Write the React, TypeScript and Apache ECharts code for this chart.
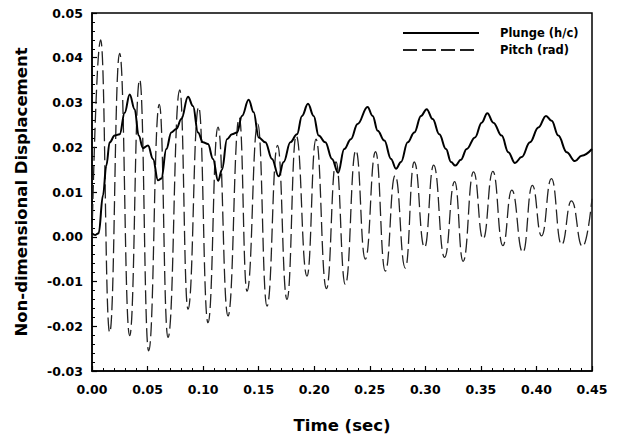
import React, { useEffect, useRef } from "react";
import * as echarts from "echarts";

const xTicks = [0, 0.45, 0.05];
const yTicks = [-0.03, 0.05, 0.01];

const plungeT = [0.000, 0.003, 0.006, 0.0099, 0.0129, 0.0159, 0.0204, 0.0249, 0.0294, 0.0339, 0.0384, 0.042, 0.0459, 0.0504, 0.0549, 0.0594, 0.0624, 0.0669, 0.0714, 0.0759, 0.0804, 0.0864, 0.0909, 0.0954, 0.0999, 0.1044, 0.1089, 0.1135, 0.117, 0.1215, 0.126, 0.1305, 0.135, 0.141, 0.1455, 0.15, 0.156, 0.162, 0.168, 0.1725, 0.1785, 0.1845, 0.189, 0.1944, 0.1995, 0.204, 0.21, 0.216, 0.2215, 0.227, 0.233, 0.239, 0.248, 0.2526, 0.2571, 0.2631, 0.2691, 0.2736, 0.2781, 0.2841, 0.2901, 0.2961, 0.3012, 0.3066, 0.3126, 0.3186, 0.3231, 0.327, 0.332, 0.3372, 0.3447, 0.3507, 0.3558, 0.3612, 0.3687, 0.3747, 0.3807, 0.3867, 0.3942, 0.4017, 0.4086, 0.4137, 0.4197, 0.4272, 0.4347, 0.4407, 0.45];
const plungeV = [0.0008, 0.0004, 0.0008, 0.0093, 0.0159, 0.0211, 0.0226, 0.0229, 0.0277, 0.0318, 0.0285, 0.0226, 0.0198, 0.0204, 0.0174, 0.0126, 0.013, 0.0196, 0.0233, 0.0241, 0.0263, 0.0313, 0.0292, 0.0233, 0.0211, 0.0207, 0.0174, 0.0125, 0.015, 0.0218, 0.0229, 0.0233, 0.027, 0.0306, 0.0278, 0.0222, 0.0211, 0.0174, 0.0135, 0.0167, 0.0211, 0.0229, 0.027, 0.0297, 0.027, 0.0226, 0.0211, 0.0174, 0.0143, 0.0196, 0.0218, 0.0252, 0.029, 0.027, 0.0237, 0.0215, 0.0174, 0.0152, 0.0167, 0.0211, 0.0233, 0.027, 0.0285, 0.0263, 0.0229, 0.0196, 0.0167, 0.0159, 0.0172, 0.0196, 0.0222, 0.0255, 0.0276, 0.0255, 0.0226, 0.0189, 0.0165, 0.0178, 0.0211, 0.0244, 0.027, 0.0259, 0.0226, 0.0189, 0.0169, 0.0181, 0.0196];

const pitchT = [0.000, 0.0078, 0.0159, 0.0249, 0.0339, 0.0429, 0.051, 0.0606, 0.0684, 0.079, 0.0864, 0.096, 0.1044, 0.1134, 0.1224, 0.1326, 0.1395, 0.1492, 0.1575, 0.167, 0.1755, 0.1838, 0.1935, 0.2016, 0.211, 0.2196, 0.228, 0.2375, 0.246, 0.2552, 0.264, 0.2728, 0.282, 0.29, 0.2993, 0.3075, 0.3173, 0.3264, 0.334, 0.3434, 0.352, 0.3608, 0.3698, 0.3778, 0.3878, 0.3963, 0.4046, 0.4135, 0.4226, 0.4315, 0.4415, 0.45];
const pitchV = [0.000, 0.044, -0.0214, 0.041, -0.0221, 0.0351, -0.0255, 0.0296, -0.0225, 0.0328, -0.0162, 0.029, -0.0192, 0.0245, -0.0177, 0.0266, -0.0122, 0.0252, -0.0155, 0.0204, -0.014, 0.0226, -0.0088, 0.0218, -0.0116, 0.0167, -0.0107, 0.0193, -0.005, 0.019, -0.0077, 0.0137, -0.007, 0.0167, -0.0024, 0.016, -0.0046, 0.0123, -0.0055, 0.0145, -0.0005, 0.0146, -0.002, 0.0104, -0.0035, 0.0115, 0.0002, 0.013, -0.0018, 0.008, -0.0022, 0.0085];

const seriesNames = ["Plunge (h/c)", "Pitch (rad)"];
const xName = "Time (sec)";
const yName = "Non-dimensional Displacement";

const FONT = "DejaVu Sans";

export default function App() {
  const ref = useRef<HTMLDivElement>(null);
  useEffect(() => {
    document.body.style.margin = "0";
    const chart = echarts.init(ref.current!, null, { renderer: "svg" });
    const axisCommon = {
      axisLine: { show: true, onZero: false, lineStyle: { color: "#000", width: 1.5 } },
      axisTick: { show: true, inside: true, length: 5, lineStyle: { color: "#000", width: 1.2 } },
      minorTick: { show: true, splitNumber: 5, length: 3, lineStyle: { color: "#000", width: 1 } },
      splitLine: { show: false },
      minorSplitLine: { show: false },
      nameLocation: "middle" as const,
      nameTextStyle: { fontFamily: FONT, fontWeight: "bold" as const, fontSize: 16.5, color: "#000" },
    };
    chart.setOption({
      animation: false,
      backgroundColor: "#fff",
      grid: { left: 92, right: 27, top: 13, bottom: 65, show: true, borderColor: "#000", borderWidth: 1.5, containLabel: false },
      legend: {
        show: true,
        orient: "vertical",
        left: 402,
        top: 26,
        padding: 0,
        itemWidth: 76,
        itemHeight: 14,
        itemGap: 3,
        data: seriesNames,
        itemStyle: { color: "transparent", borderColor: "transparent", borderWidth: 0, opacity: 0 },
        textStyle: { fontFamily: FONT, fontWeight: "bold", fontSize: 11.5, color: "#000", padding: [0, 0, 0, 16], lineHeight: 14 },
      },
      xAxis: {
        type: "value",
        min: xTicks[0],
        max: xTicks[1],
        interval: xTicks[2],
        name: xName,
        nameGap: 46,
        ...axisCommon,
        axisLabel: { margin: 12, fontFamily: FONT, fontWeight: "bold", fontSize: 12.5, color: "#000", formatter: (v: number) => v.toFixed(2) },
      },
      yAxis: {
        type: "value",
        min: yTicks[0],
        max: yTicks[1],
        interval: yTicks[2],
        name: yName,
        nameGap: 62,
        ...axisCommon,
        axisLabel: { margin: 9, fontFamily: FONT, fontWeight: "bold", fontSize: 12.5, color: "#000", formatter: (v: number) => (Math.abs(v) < 1e-9 ? 0 : v).toFixed(2) },
      },
      series: [
        {
          name: seriesNames[0],
          type: "line",
          symbol: "none",
          smooth: 0.4,
          smoothMonotone: "x",
          data: plungeT.map((t, i) => [t, plungeV[i]]),
          lineStyle: { color: "#000", width: 2 },
          itemStyle: { color: "#000" },
          z: 3,
        },
        {
          name: seriesNames[1],
          type: "line",
          symbol: "none",
          smooth: 0.5,
          smoothMonotone: "x",
          data: pitchT.map((t, i) => [t, pitchV[i]]),
          lineStyle: { color: "#222", width: 1.3, type: [14, 5] },
          itemStyle: { color: "#222" },
          z: 2,
        },
      ],
    });
    return () => chart.dispose();
  }, []);
  return <div ref={ref} style={{ position: "fixed", left: 0, top: 0, width: 619, height: 439 }} />;
}
